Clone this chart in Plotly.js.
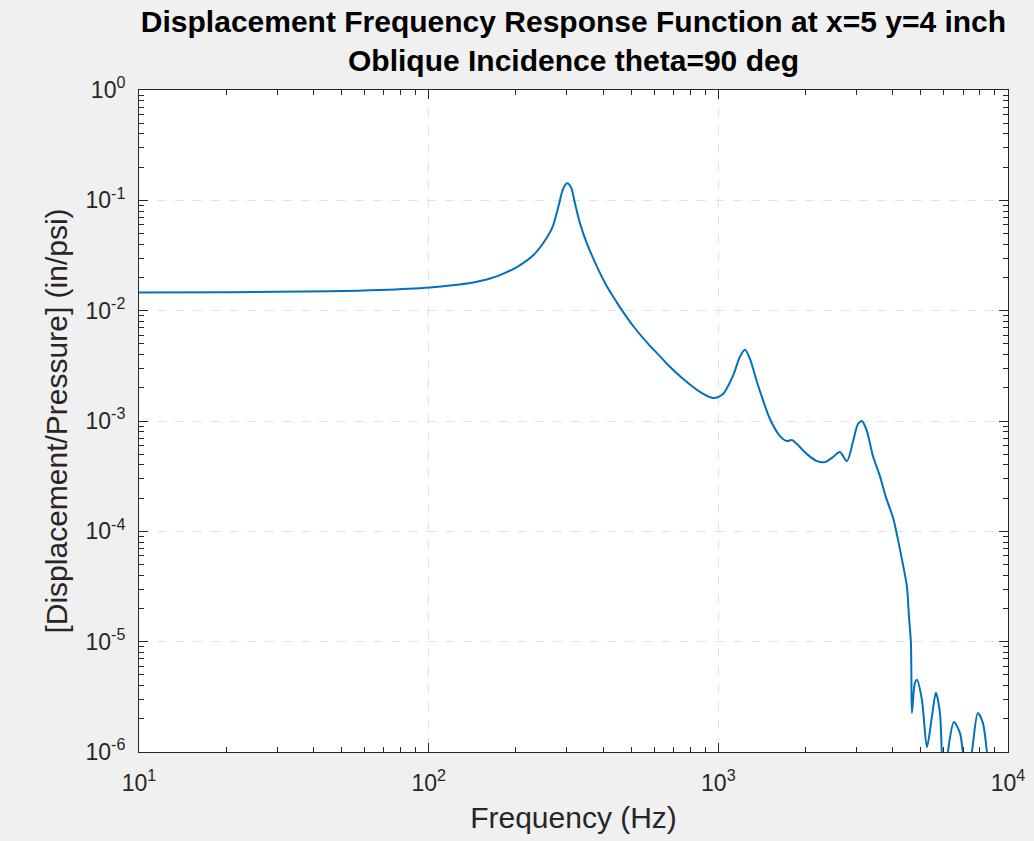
<!DOCTYPE html>
<html>
<head>
<meta charset="utf-8">
<script src="https://cdn.plot.ly/plotly-3.0.1.min.js"></script>
<style>html,body{margin:0;padding:0;background:#f0f0f0;}#chart{width:1034px;height:841px;}</style>
</head>
<body>
<div id="chart"></div>
<script>
// Frequency (Hz)
const freqHz = [10, 20.6, 45.6, 67.9, 101, 123.3, 138.9, 150.4, 162.8, 176.2, 201.7, 229.1, 248, 266.5, 279.5, 290.8, 300.2, 309.9, 319.9, 333, 351.9, 381, 412.6, 446.7, 476, 507.2, 580.6, 620, 664.5, 754.9, 864.2, 958.2, 1037.3, 1123, 1187.5, 1235.6, 1285.7, 1359.3, 1425.6, 1507.4, 1632.3, 1725.3, 1795.4, 1868.1, 2022.6, 2189.8, 2333.6, 2487, 2629, 2779, 2915, 3034, 3131, 3258, 3418, 3614, 3789, 4006, 4169, 4303, 4478, 4550, 4622, 4640, 4659, 4772, 4848, 5045, 5249, 5461, 5638, 5821, 5963, 6081, 6202, 6505, 6823, 6987, 7240, 7506, 7871, 8190, 8456, 8660];
// Displacement / Pressure (in/psi)
const response = [0.01458, 0.01472, 0.01498, 0.01536, 0.01618, 0.01706, 0.01778, 0.01854, 0.01954, 0.02103, 0.02486, 0.0316, 0.0406, 0.0556, 0.0846, 0.1259, 0.1427, 0.1313, 0.0939, 0.0618, 0.0406, 0.0251, 0.01653, 0.01183, 0.0092, 0.0073, 0.0048, 0.00402, 0.0033, 0.00241, 0.001835, 0.001618, 0.00176, 0.002564, 0.00382, 0.00442, 0.00366, 0.00226, 0.001552, 0.001042, 0.00073, 0.000658, 0.000672, 0.000618, 0.000501, 0.000433, 0.000424, 0.000471, 0.000523, 0.000433, 0.000644, 0.000939, 0.001, 0.000811, 0.000481, 0.000316, 0.000204, 0.000134, 8.46e-5, 5.57e-5, 3.16e-5, 1.69e-5, 9.8e-6, 4.8e-6, 2.26e-6, 4.24e-6, 4.51e-6, 2.97e-6, 1.11e-6, 2.08e-6, 3.44e-6, 2.26e-6, 7e-7, 6e-7, 1e-6, 1.87e-6, 1.49e-6, 1e-6, 6e-7, 1e-6, 2.26e-6, 1.835e-6, 1e-6, 5e-7];

const xMajorVals = [10, 100, 1000, 10000];
const xMajorText = ['10<sup>1</sup>', '10<sup>2</sup>', '10<sup>3</sup>', '10<sup>4</sup>'];
const yMajorVals = [1e-6, 1e-5, 1e-4, 1e-3, 1e-2, 1e-1, 1];
const yMajorText = ['10<sup>-6</sup>', '10<sup>-5</sup>', '10<sup>-4</sup>', '10<sup>-3</sup>', '10<sup>-2</sup>', '10<sup>-1</sup>', '10<sup>0</sup>'];
const minorMult = [2, 3, 4, 5, 6, 7, 8, 9];

const xMinor = [];
[10, 100, 1000].forEach(d => minorMult.forEach(m => xMinor.push(d * m)));
const yMinor = [];
[1e-6, 1e-5, 1e-4, 1e-3, 1e-2, 1e-1].forEach(d => minorMult.forEach(m => yMinor.push(d * m)));

const axisColor = '#262626';
const fontFam = '"Liberation Sans", Arial, sans-serif';

const traces = [
  {x: freqHz, y: response, type: 'scatter', mode: 'lines',
   line: {color: '#0072BD', width: 2, shape: 'spline', smoothing: 0.8}, hoverinfo: 'x+y', showlegend: false},
  {x: freqHz, y: response, type: 'scatter', mode: 'lines', xaxis: 'x2', yaxis: 'y2',
   line: {color: 'rgba(0,0,0,0)', width: 0}, hoverinfo: 'skip', showlegend: false}
];

const layout = {
  width: 1034, height: 841,
  paper_bgcolor: '#f0f0f0', plot_bgcolor: '#ffffff',
  margin: {l: 139, r: 26, t: 90, b: 89},
  font: {family: fontFam, color: axisColor},
  title: {
    text: '<b>Displacement Frequency Response Function at x=5 y=4 inch</b><br><b>Oblique Incidence theta=90 deg</b>',
    x: 0.5, xref: 'paper', xanchor: 'center',
    y: 1, yref: 'paper', yanchor: 'bottom',
    pad: {b: 58},
    font: {size: 30, color: '#000000', family: fontFam}
  },
  xaxis: {
    type: 'log', range: [1, 4],
    tickmode: 'array', tickvals: xMajorVals, ticktext: xMajorText,
    ticks: 'inside', ticklen: 9, tickwidth: 1, tickcolor: axisColor,
    mirror: 'ticks', showline: true, linecolor: axisColor, linewidth: 1,
    showgrid: true, gridcolor: '#e1e1e1', griddash: 'dash', gridwidth: 1,
    zeroline: false,
    tickfont: {size: 23, color: axisColor},
    ticklabelstandoff: 10,
    title: {text: 'Frequency (Hz)', font: {size: 30, color: axisColor}, standoff: 12}
  },
  yaxis: {
    type: 'log', range: [-6, 0],
    tickmode: 'array', tickvals: yMajorVals, ticktext: yMajorText,
    ticks: 'inside', ticklen: 9, tickwidth: 1, tickcolor: axisColor,
    mirror: 'ticks', showline: true, linecolor: axisColor, linewidth: 1,
    showgrid: true, gridcolor: '#e1e1e1', griddash: 'dash', gridwidth: 1,
    zeroline: false,
    tickfont: {size: 23, color: axisColor},
    ticklabelstandoff: 8,
    title: {text: '[Displacement/Pressure] (in/psi)', font: {size: 30, color: axisColor}, standoff: 8}
  },
  xaxis2: {
    type: 'log', range: [1, 4], overlaying: 'x', matches: 'x',
    tickmode: 'array', tickvals: xMinor, ticktext: xMinor.map(() => ''),
    ticks: 'inside', ticklen: 5, tickwidth: 1, tickcolor: axisColor,
    mirror: 'ticks', showline: false, showgrid: false, zeroline: false
  },
  yaxis2: {
    type: 'log', range: [-6, 0], overlaying: 'y', matches: 'y',
    tickmode: 'array', tickvals: yMinor, ticktext: yMinor.map(() => ''),
    ticks: 'inside', ticklen: 5, tickwidth: 1, tickcolor: axisColor,
    mirror: 'ticks', showline: false, showgrid: false, zeroline: false
  }
};

Plotly.newPlot('chart', traces, layout, {displayModeBar: false, staticPlot: true});
</script>
</body>
</html>
